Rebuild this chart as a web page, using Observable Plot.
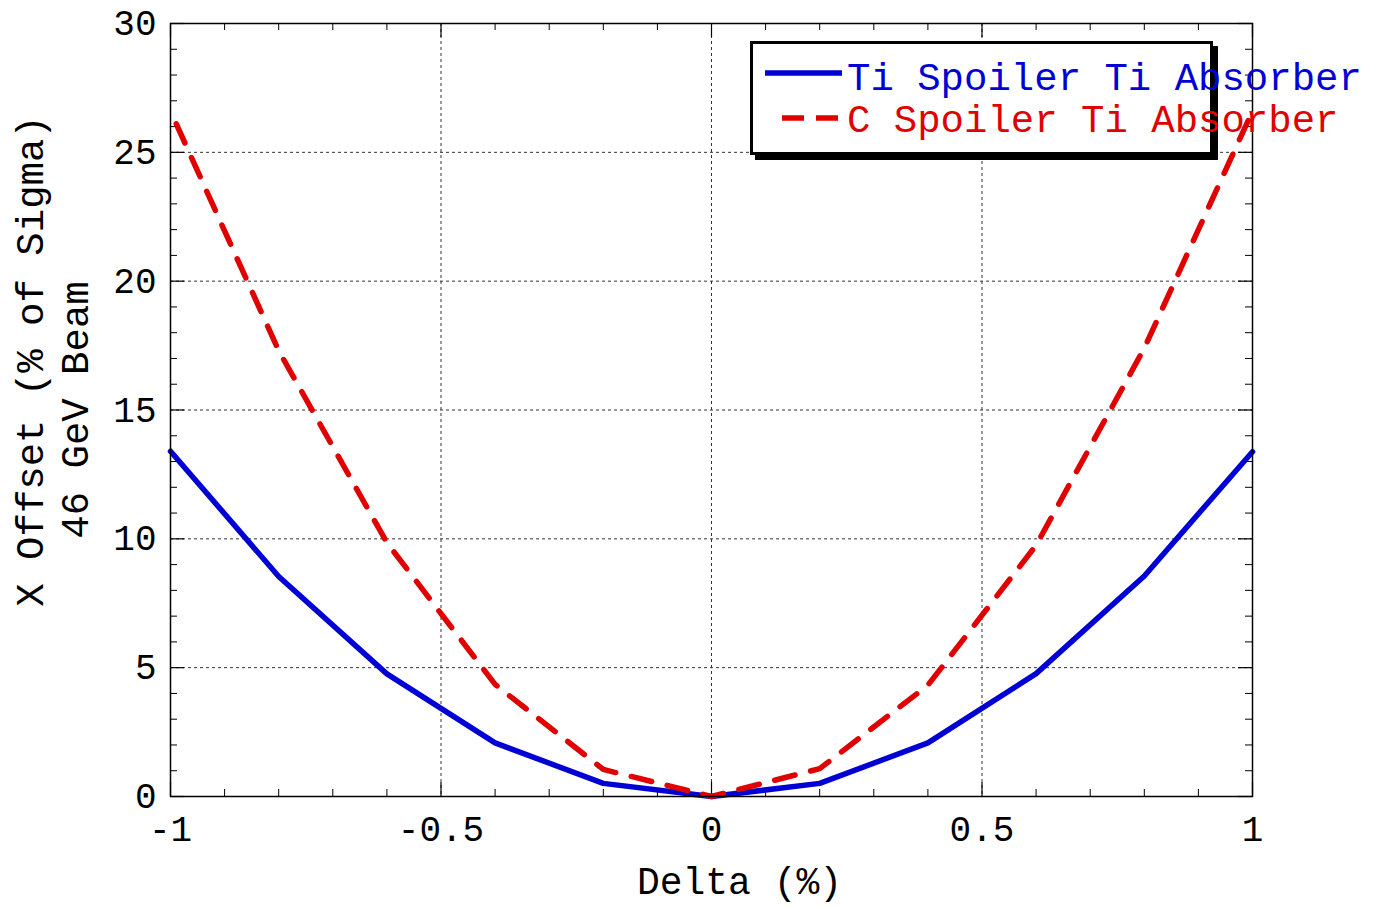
<!DOCTYPE html>
<html>
<head>
<meta charset="utf-8">
<script src="https://cdn.jsdelivr.net/npm/d3@7"></script>
<script src="https://cdn.jsdelivr.net/npm/@observablehq/plot@0.6"></script>
<style>
  html, body { margin: 0; padding: 0; background: white; }
  #wrap { position: relative; width: 1381px; height: 907px; overflow: hidden; }
  #legendBox { position: absolute; left: 750px; top: 41px; width: 457px; height: 108px;
    border: 3px solid black; background: white; box-shadow: 5px 5px 0 black; }
  #legendSvg { position: absolute; left: 0; top: 0; pointer-events: none; overflow: visible; }
</style>
</head>
<body>
<div id="wrap"></div>
<script>
// ---- data ----
const delta = [-1, -0.8, -0.6, -0.4, -0.2, 0, 0.2, 0.4, 0.6, 0.8, 1];
const tiSpoiler = [13.4, 8.54, 4.76, 2.08, 0.51, 0, 0.51, 2.08, 4.77, 8.56, 13.38];
const cSpoiler = [26.6, 17.3, 9.85, 4.35, 1.05, 0, 1.08, 4.32, 9.75, 17.4, 26.6];
const seriesNames = ["Ti Spoiler Ti Absorber", "C Spoiler Ti Absorber"];
const seriesColors = ["#0000d4", "#e00000"];
const xTickLabels = [-1, -0.5, 0, 0.5, 1];
const yTickLabels = [0, 5, 10, 15, 20, 25, 30];
const xGridValues = [-0.5, 0, 0.5];
const yGridValues = [5, 10, 15, 20, 25];
const xMinor = d3.range(-10, 11).map(i => i / 10).filter(v => Math.abs(v * 2 - Math.round(v * 2)) > 1e-9);
const yMinor = d3.range(0, 31).filter(v => v % 5 !== 0);
const xLabel = "Delta (%)";
const yLabel1 = "X Offset (% of Sigma)";
const yLabel2 = "46 GeV Beam";

const rows = [];
delta.forEach((d, i) => {
  rows.push({delta: d, value: tiSpoiler[i], series: seriesNames[0]});
  rows.push({delta: d, value: cSpoiler[i], series: seriesNames[1]});
});

const W = 1381, H = 907, mL = 170, mR = 129, mT = 23, mB = 111;
const plotH = H - mT - mB, plotW = W - mL - mR;
const font = "'Liberation Mono', 'DejaVu Sans Mono', monospace";
const gridStyle = {stroke: "#333", strokeOpacity: 1, strokeDasharray: "3,3", strokeWidth: 1};

const chart = Plot.plot({
  width: W, height: H,
  marginLeft: mL, marginRight: mR, marginTop: mT, marginBottom: mB,
  x: {domain: [-1, 1]},
  y: {domain: [0, 30]},
  style: {fontFamily: font, background: "white", color: "black", overflow: "visible"},
  marks: [
    Plot.gridX(xGridValues, gridStyle),
    Plot.gridY(yGridValues, gridStyle),
    // major ticks (inward) on all four sides
    Plot.tickX(xTickLabels, {x: d => d, insetTop: plotH - 14, stroke: "black", strokeWidth: 1.2}),
    Plot.tickX(xTickLabels, {x: d => d, insetBottom: plotH - 14, stroke: "black", strokeWidth: 1.2}),
    Plot.tickY(yTickLabels, {y: d => d, insetRight: plotW - 14, stroke: "black", strokeWidth: 1.2}),
    Plot.tickY(yTickLabels, {y: d => d, insetLeft: plotW - 14, stroke: "black", strokeWidth: 1.2}),
    // minor ticks
    Plot.tickX(xMinor, {x: d => d, insetTop: plotH - 7, stroke: "black", strokeWidth: 1}),
    Plot.tickX(xMinor, {x: d => d, insetBottom: plotH - 7, stroke: "black", strokeWidth: 1}),
    Plot.tickY(yMinor, {y: d => d, insetRight: plotW - 7, stroke: "black", strokeWidth: 1}),
    Plot.tickY(yMinor, {y: d => d, insetLeft: plotW - 7, stroke: "black", strokeWidth: 1}),
    Plot.line(rows.filter(r => r.series === seriesNames[0]), {
      x: "delta", y: "value", stroke: seriesColors[0], strokeWidth: 5.5, strokeLinejoin: "round"
    }),
    Plot.line(rows.filter(r => r.series === seriesNames[1]), {
      x: "delta", y: "value", stroke: seriesColors[1], strokeWidth: 5.5,
      strokeDasharray: "21,16", strokeDashoffset: -14, strokeLinejoin: "round"
    }),
    Plot.frame({stroke: "black", strokeWidth: 1.5}),
    Plot.axisX(xTickLabels, {tickSize: 0, tickPadding: 19, fontSize: 36, tickFormat: d => String(d), label: null}),
    Plot.axisY(yTickLabels, {tickSize: 0, tickPadding: 14, fontSize: 36, tickFormat: d => String(d), label: null}),
    Plot.text([xLabel], {text: d => d, frameAnchor: "bottom", textAnchor: "middle", dx: 28, dy: 71, lineAnchor: "top", fontSize: 38, fill: "black"}),
    Plot.text([yLabel1], {text: d => d, frameAnchor: "left", textAnchor: "middle", dx: -140, dy: -49, rotate: -90, lineAnchor: "middle", fontSize: 39, fill: "black"}),
    Plot.text([yLabel2], {text: d => d, frameAnchor: "left", textAnchor: "middle", dx: -95, dy: 0, rotate: -90, lineAnchor: "middle", fontSize: 39, fill: "black"})
  ]
});

const wrap = document.getElementById("wrap");
wrap.appendChild(chart);

// legend
const box = document.createElement("div");
box.id = "legendBox";
wrap.appendChild(box);

const ns = "http://www.w3.org/2000/svg";
const lsvg = document.createElementNS(ns, "svg");
lsvg.setAttribute("id", "legendSvg");
lsvg.setAttribute("width", W);
lsvg.setAttribute("height", H);
const legendItems = [
  {name: seriesNames[0], color: seriesColors[0], x1: 765, x2: 842, ly: 73, ty: 90, dash: null},
  {name: seriesNames[1], color: seriesColors[1], x1: 782, x2: 838, ly: 118, ty: 132, dash: "22,12"}
];
legendItems.forEach(it => {
  const ln = document.createElementNS(ns, "line");
  ln.setAttribute("x1", it.x1); ln.setAttribute("x2", it.x2);
  ln.setAttribute("y1", it.ly); ln.setAttribute("y2", it.ly);
  ln.setAttribute("stroke", it.color); ln.setAttribute("stroke-width", 5.5);
  if (it.dash) ln.setAttribute("stroke-dasharray", it.dash);
  lsvg.appendChild(ln);
  const tx = document.createElementNS(ns, "text");
  tx.setAttribute("x", 847); tx.setAttribute("y", it.ty);
  tx.setAttribute("fill", it.color);
  tx.setAttribute("font-family", font);
  tx.setAttribute("font-size", 39);
  tx.setAttribute("xml:space", "preserve");
  tx.textContent = it.name;
  lsvg.appendChild(tx);
});
wrap.appendChild(lsvg);
</script>
</body>
</html>
